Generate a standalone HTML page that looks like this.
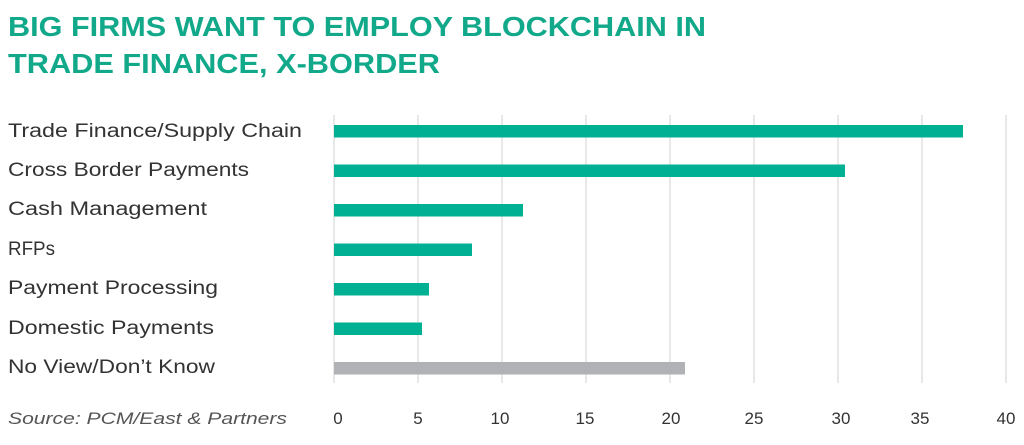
<!DOCTYPE html>
<html><head><meta charset="utf-8"><style>
html,body{margin:0;padding:0;background:#fff;}
svg{display:block;}
</style></head><body>
<svg width="1024" height="445" viewBox="0 0 1024 445" xmlns="http://www.w3.org/2000/svg" font-family="Liberation Sans, sans-serif">
<text x="8" y="36" font-size="28" font-weight="bold" fill="#12a98a" textLength="698" lengthAdjust="spacingAndGlyphs">BIG FIRMS WANT TO EMPLOY BLOCKCHAIN IN</text>
<text x="8" y="73" font-size="28" font-weight="bold" fill="#12a98a" textLength="432" lengthAdjust="spacingAndGlyphs">TRADE FINANCE, X-BORDER</text>
<g stroke="#d9d9d9" stroke-width="1.2">
<line x1="334" y1="115" x2="334" y2="383"/><line x1="418" y1="115" x2="418" y2="383"/>
<line x1="502" y1="115" x2="502" y2="383"/><line x1="586" y1="115" x2="586" y2="383"/>
<line x1="670" y1="115" x2="670" y2="383"/><line x1="754" y1="115" x2="754" y2="383"/>
<line x1="838" y1="115" x2="838" y2="383"/><line x1="922" y1="115" x2="922" y2="383"/>
<line x1="1006" y1="115" x2="1006" y2="383"/>
</g>
<g fill="#00b092">
<rect x="334" y="125" width="629" height="12.5"/>
<rect x="334" y="164.5" width="511" height="12.5"/>
<rect x="334" y="204" width="189" height="12.5"/>
<rect x="334" y="243.5" width="138" height="12.5"/>
<rect x="334" y="283" width="95" height="12.5"/>
<rect x="334" y="322.5" width="88" height="12.5"/>
</g>
<rect x="334" y="362" width="351" height="12.5" fill="#b1b2b6"/>
<g font-size="19" fill="#333">
<text x="8" y="137" textLength="294" lengthAdjust="spacingAndGlyphs">Trade Finance/Supply Chain</text>
<text x="8" y="176" textLength="241" lengthAdjust="spacingAndGlyphs">Cross Border Payments</text>
<text x="8" y="215" textLength="199" lengthAdjust="spacingAndGlyphs">Cash Management</text>
<text x="8" y="255" textLength="47" lengthAdjust="spacingAndGlyphs">RFPs</text>
<text x="8" y="294" textLength="210" lengthAdjust="spacingAndGlyphs">Payment Processing</text>
<text x="8" y="334" textLength="206" lengthAdjust="spacingAndGlyphs">Domestic Payments</text>
<text x="8" y="373" textLength="207" lengthAdjust="spacingAndGlyphs">No View/Don’t Know</text>
</g>
<text x="8" y="424" font-size="17" font-style="italic" fill="#555" textLength="279" lengthAdjust="spacingAndGlyphs">Source: PCM/East &amp; Partners</text>
<g font-size="17" fill="#333" text-anchor="middle">
<text x="338" y="424">0</text><text x="418" y="424">5</text><text x="500" y="424">10</text>
<text x="585" y="424">15</text><text x="671" y="424">20</text><text x="754" y="424">25</text>
<text x="841" y="424">30</text><text x="920" y="424">35</text><text x="1006" y="424">40</text>
</g>
</svg>
</body></html>
